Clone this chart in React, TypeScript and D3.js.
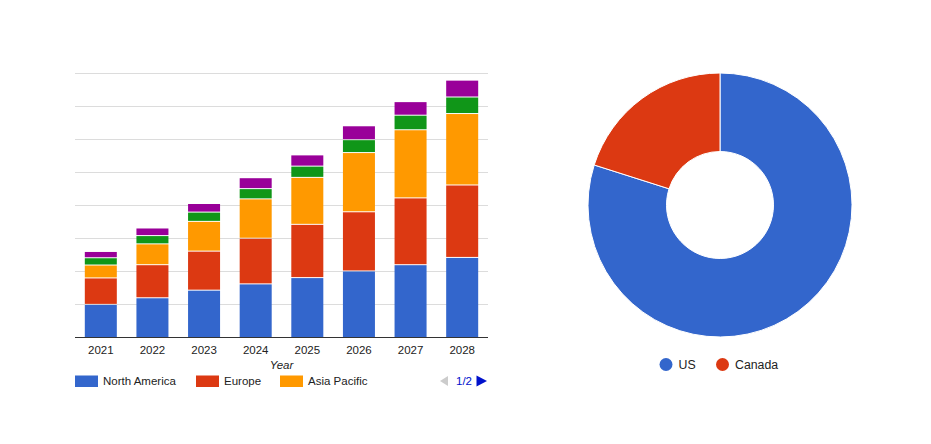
import React from 'react';
import * as d3 from 'd3';

const years = ['2021', '2022', '2023', '2024', '2025', '2026', '2027', '2028'];
const regions = ['North America', 'Europe', 'Asia Pacific', 'Latin America', 'Middle East & Africa'];
const northAmerica = [9.8, 11.8, 14.1, 16.0, 17.9, 19.9, 21.8, 24.0];
const europe = [8.0, 10.0, 11.8, 13.8, 16.1, 17.9, 20.2, 21.9];
const asiaPacific = [3.9, 6.3, 9.0, 11.9, 14.2, 17.9, 20.6, 21.6];
const latinAmerica = [2.2, 2.5, 2.8, 3.1, 3.4, 3.9, 4.4, 5.0];
const middleEastAfrica = [1.9, 2.3, 2.6, 3.3, 3.4, 4.2, 4.1, 5.1];
const yTicks = [0, 10, 20, 30, 40, 50, 60, 70, 80];

const pieLabels = ['US', 'Canada'];
const pieValues = [79.9, 20.1];

const colors = ['#3366cc', '#dc3912', '#ff9900', '#109618', '#990099'];
const font = '"Liberation Sans", Arial, sans-serif';

const App = () => {
  const rows = years.map((year, i) => ({
    year,
    'North America': northAmerica[i],
    'Europe': europe[i],
    'Asia Pacific': asiaPacific[i],
    'Latin America': latinAmerica[i],
    'Middle East & Africa': middleEastAfrica[i],
  }));

  const x = d3.scaleBand()
    .domain(years)
    .range([75, 488])
    .paddingInner(0.38)
    .paddingOuter(0.19);

  const y = d3.scaleLinear()
    .domain([0, 80])
    .range([337.3, 72.7]);

  const stacked = d3.stack().keys(regions)(rows as any);

  // donut
  const cx = 720, cy = 205;
  const pie = d3.pie<number>().sort(null).value(d => d);
  const arc = d3.arc<d3.PieArcDatum<number>>().innerRadius(53.5).outerRadius(132);
  const slices = pie(pieValues);

  const legendItems = [
    { label: regions[0], x: 75 },
    { label: regions[1], x: 196 },
    { label: regions[2], x: 280 },
  ];

  return (
    <div style={{ position: 'fixed', left: 0, top: 0 }}>
      <svg width={931} height={444} style={{ display: 'block', background: '#fff' }} fontFamily={font}>
        {yTicks.slice(1).map(t => (
          <line key={t} x1={75} x2={488} y1={Math.round(y(t)) + 0.5} y2={Math.round(y(t)) + 0.5}
            stroke="#dcdcdc" strokeWidth={1.2} />
        ))}
        {stacked.map((s, si) => (
          <g key={s.key} fill={colors[si]}>
            {s.map((d, i) => {
              const top = y(d[1]);
              const bottom = y(d[0]) - (si > 0 ? 1 : 0);
              return (
                <rect key={i} x={x(years[i])} y={top} width={x.bandwidth()} height={Math.max(0, bottom - top)} />
              );
            })}
          </g>
        ))}
        <line x1={75} x2={488} y1={337.5} y2={337.5} stroke="#333" strokeWidth={1} />
        {years.map(yr => (
          <text key={yr} x={x(yr)! + x.bandwidth() / 2} y={353.5} textAnchor="middle" fontSize={11.5} fill="#222">
            {yr}
          </text>
        ))}
        <text x={281.5} y={369} textAnchor="middle" fontSize={11.5} fontStyle="italic" fill="#222">Year</text>

        {legendItems.map((l, i) => (
          <g key={l.label}>
            <rect x={l.x} y={375.5} width={23} height={11.5} fill={colors[i]} />
            <text x={l.x + 28} y={385} fontSize={11.5} fill="#222">{l.label}</text>
          </g>
        ))}
        <path d="M440,381 L448,376 L448,386 Z" fill="#cccccc" />
        <text x={456} y={385} fontSize={11.5} fill="#0011cc">1/2</text>
        <path d="M476.5,375.5 L487,381 L476.5,386.5 Z" fill="#0011cc" />

        <g transform={`translate(${cx},${cy})`}>
          {slices.map((s, i) => (
            <path key={pieLabels[i]} d={arc(s)!} fill={colors[i]} stroke="#fff" strokeWidth={1} />
          ))}
        </g>
        {pieLabels.map((l, i) => {
          const lx = i === 0 ? 666 : 722.5;
          return (
            <g key={l}>
              <circle cx={lx} cy={364.5} r={6.5} fill={colors[i]} />
              <text x={lx + 12.5} y={369} fontSize={12.3} fill="#222">{l}</text>
            </g>
          );
        })}
      </svg>
    </div>
  );
};

export default App;
